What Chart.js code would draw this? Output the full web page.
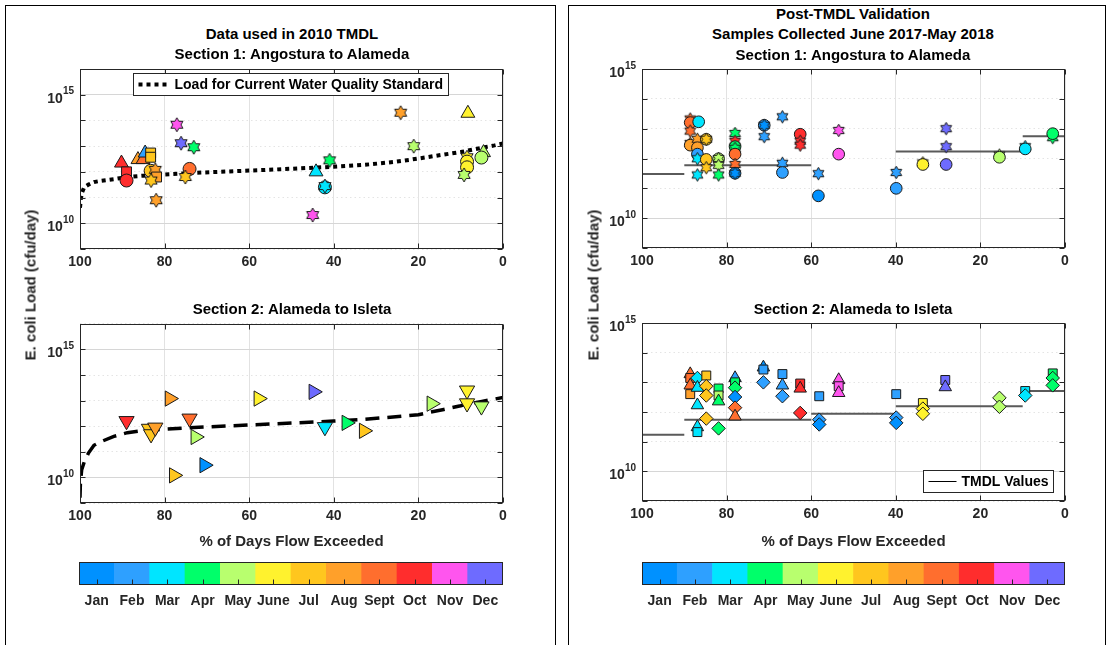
<!DOCTYPE html>
<html>
<head>
<meta charset="utf-8">
<script src="https://cdn.jsdelivr.net/npm/chart.js@4.4.1/dist/chart.umd.min.js"></script>
<style>
body { margin: 0; width: 1110px; height: 645px; overflow: hidden; background: #fff; font-family: "Liberation Sans", Arial, Helvetica, sans-serif; }
.panel { position: absolute; border: 1px solid #000; }
canvas { position: absolute; }
.t { position: absolute; font-weight: bold; font-size: 15px; line-height: 17px; color: #000; white-space: nowrap; transform: translateX(-50%); }
.ylab { position: absolute; font-weight: bold; font-size: 15px; color: #262626; white-space: nowrap; transform: translate(-50%, -50%) rotate(-90deg); }
</style>
</head>
<body>
<div class="panel" style="left:5px;top:5px;width:549px;height:700px"></div>
<div class="panel" style="left:568px;top:5px;width:536px;height:700px"></div>

<canvas id="old1" width="515" height="210" style="left:0;top:60px"></canvas>
<canvas id="old2" width="515" height="239" style="left:0;top:314px"></canvas>
<canvas id="new1" width="517" height="210" style="left:560px;top:60px"></canvas>
<canvas id="new2" width="517" height="237" style="left:560px;top:314px"></canvas>
<canvas id="bar1" width="515" height="60" style="left:0;top:555px"></canvas>
<canvas id="bar2" width="517" height="60" style="left:560px;top:555px"></canvas>

<div class="t" style="left:292px;top:25px">Data used in 2010 TMDL</div>
<div class="t" style="left:292px;top:45px">Section 1: Angostura to Alameda</div>
<div class="t" style="left:292px;top:300px">Section 2: Alameda to Isleta</div>
<div class="t" style="left:853px;top:5px">Post-TMDL Validation</div>
<div class="t" style="left:853px;top:25px">Samples Collected June 2017-May 2018</div>
<div class="t" style="left:853px;top:46px">Section 1: Angostura to Alameda</div>
<div class="t" style="left:853px;top:300px">Section 2: Alameda to Isleta</div>
<div class="ylab" style="left:30px;top:285px">E. coli Load (cfu/day)</div>
<div class="ylab" style="left:593px;top:285px">E. coli Load (cfu/day)</div>

<script>
const months = ["Jan", "Feb", "Mar", "Apr", "May", "June", "Jul", "Aug", "Sept", "Oct", "Nov", "Dec"];
const monthColors = ["#0091FF", "#2EA0FF", "#00E5FF", "#00FF6A", "#B8FF6E", "#FFF22E",
                     "#FFC61E", "#FFA02A", "#FF6E2E", "#FF2D2D", "#FF55EE", "#6E6BFF"];

// data used in 2010 TMDL, section 1 (month 1-12, mark: o ^ v > s d h)
const old1Pct = [90.2, 89, 89, 86.3, 85.1, 84.6, 83.3, 83.3, 83.3, 82.2, 81.9, 83.2, 82, 77.1, 76.1, 73.1,
                 74.1, 75.1, 41, 44.2, 42.1, 42.1, 45, 24.2, 21.1, 8.3, 8.5, 8.5, 8.5, 9.2, 4.6, 5.1];
const old1Load = [2.2e12, 1.0e12, 4.6e11, 3.0e12, 3.0e12, 5.4e12, 5.4e12, 3.7e12, 1.1e12, 1.2e12, 6.3e11, 4.6e11,
                  7.9e10, 6.8e13, 1.3e13, 9.1e12, 1.3e12, 6.3e11, 2.8e12, 1.0e12, 2.5e11, 2.8e11, 2.1e10, 2.0e14,
                  1.0e13, 1.9e14, 3.7e12, 2.5e12, 1.5e12, 7.6e11, 5.6e12, 3.6e12];
const old1Month = [10, 10, 10, 8, 9, 2, 7, 7, 7, 8, 8, 7, 8, 11, 12, 4, 9, 7, 4, 3, 3, 3, 11, 8, 5, 6, 6, 6, 6, 5, 5, 5];
const old1Mark = ["^", "s", "o", "^", "^", "^", "s", "s", "o", "h", "s", "h", "h", "h", "h", "h",
                  "o", "h", "h", "^", "o", "h", "h", "h", "h", "^", "h", "o", "o", "h", "^", "o"];

// data used in 2010 TMDL, section 2
const old2Pct = [89, 83.7, 83.2, 82.2, 78.8, 77.8, 74.1, 72.7, 70.6, 57.8, 44.8, 42.1, 37, 32.9, 16.9, 8.5, 8.5, 5.1];
const old2Load = [1.6e12, 8.0e11, 4.9e11, 8.9e11, 1.2e13, 1.2e10, 2.0e12, 3.8e11, 3.0e10, 1.2e13, 2.2e13, 9.3e11,
                  1.35e12, 6.6e11, 7.6e12, 2.5e13, 7.9e12, 6.0e12];
const old2Month = [10, 7, 7, 8, 8, 7, 9, 5, 1, 6, 12, 3, 4, 7, 5, 6, 6, 5];
const old2Mark = ["v", "v", "v", "v", ">", ">", "v", ">", ">", ">", ">", "v", ">", ">", ">", "v", "v", "v"];

// load for current water quality standard
const std1Pct = [100, 99.8, 99.5, 99, 98, 96.7, 95, 92, 88.8, 85, 80, 73, 60, 50, 40, 33, 26, 22, 18, 14, 10, 7, 4, 2, 0];
const std1Load = [4.0e10, 8.9e10, 1.6e11, 2.5e11, 3.2e11, 4.0e11, 4.5e11, 5.2e11, 6.3e11, 7.1e11, 7.9e11, 9.1e11,
                  1.12e12, 1.32e12, 1.58e12, 1.86e12, 2.4e12, 2.95e12, 3.7e12, 4.7e12, 5.9e12, 7.4e12, 9.3e12, 1.07e13, 1.26e13];
const std2Pct = [100, 99.9, 99.6, 99, 98, 96.7, 95, 92, 88.8, 85, 80, 73, 60, 50, 40, 33, 26, 20, 18, 14, 10, 8.6, 5, 2, 0];
const std2Load = [1.6e9, 6.3e9, 2.0e10, 4.0e10, 8.9e10, 1.8e11, 2.5e11, 4.0e11, 5.6e11, 6.8e11, 7.6e11, 8.9e11,
                  1.12e12, 1.32e12, 1.58e12, 1.86e12, 2.3e12, 2.8e12, 3.3e12, 4.5e12, 6.3e12, 7.2e12, 9.3e12, 1.15e13, 1.32e13];

// post-TMDL validation, section 1
const new1Pct = [88.6, 88.6, 88.6, 86.6, 88.6, 88.6, 86.9, 84.8, 84.8, 86.9, 86.9, 86.9, 84.8, 84.8, 86.9,
                 81.9, 81.9, 81.9, 81.9, 78, 78, 78, 78, 78, 78, 78, 78, 71.1, 71.1, 71.1, 66.8, 66.8, 66.8,
                 62.6, 62.6, 62.6, 58.3, 58.3, 53.5, 53.5, 39.9, 39.9, 33.6, 33.6, 28.1, 28.1, 28.1,
                 15.5, 15.5, 9.4, 9.4, 2.9, 2.9];
const new1Load = [2.1e13, 1.6e13, 8.3e12, 1.7e13, 3.2e12, 2.8e12, 4.4e12, 4.4e12, 4.4e12, 2.3e12, 1.4e12, 9.8e11,
                  9.3e11, 4.9e11, 2.8e11, 9.8e11, 1.0e12, 5.9e11, 2.8e11, 6.9e12, 3.8e12, 2.5e12, 2.2e12, 1.4e12,
                  6.3e11, 3.2e11, 3.2e11, 1.3e13, 1.3e13, 5.4e12, 2.5e13, 6.9e11, 3.4e11, 6.5e12, 3.8e12, 2.8e12,
                  3.1e11, 5.6e10, 8.7e12, 1.4e12, 3.4e11, 1.0e11, 7.1e11, 6.3e11, 1.0e13, 2.5e12, 6.3e11,
                  1.3e12, 1.1e12, 2.5e12, 2.1e12, 5.0e12, 6.8e12];
const new1Month = [9, 9, 9, 3, 8, 8, 8, 7, 7, 8, 2, 3, 7, 7, 3, 5, 5, 5, 4, 4, 10, 4, 4, 9, 9, 1, 1, 2, 1, 2,
                   2, 2, 2, 10, 10, 10, 2, 1, 11, 11, 2, 2, 6, 6, 12, 12, 12, 5, 5, 3, 3, 4, 4];
const new1Mark = ["h", "o", "h", "o", "h", "o", "h", "o", "h", "o", "o", "h", "o", "h", "h", "o", "h", "h", "h",
                  "h", "h", "o", "h", "o", "h", "o", "h", "o", "h", "h", "h", "h", "o", "o", "h", "h", "h", "o",
                  "h", "o", "h", "o", "h", "o", "h", "h", "o", "h", "o", "h", "o", "h", "o"];
const new1TmdlFrom = [100, 90, 40, 10];
const new1TmdlTo = [90, 60, 10, 0];
const new1TmdlLoad = [3.0e11, 5.9e11, 1.7e12, 5.6e12];

// post-TMDL validation, section 2
const new2Pct = [88.6, 88.6, 88.6, 88.6, 86.9, 84.8, 86.9, 84.8, 84.8, 86.9, 84.8, 86.9, 86.9,
                 81.9, 81.9, 81.9, 81.9, 78, 78, 78, 78, 78, 78, 71.3, 71.3, 71.3, 66.8, 66.8, 66.8,
                 62.6, 62.6, 62.6, 58.1, 58.1, 58.1, 53.5, 53.5, 53.5, 39.9, 39.9, 39.9, 33.6, 33.6, 33.6,
                 28.3, 28.3, 15.5, 15.5, 9.4, 9.4, 2.9, 2.9, 2.9];
const new2Load = [1.9e13, 1.4e13, 7.9e12, 4.0e12, 1.4e13, 1.7e13, 6.6e12, 7.4e12, 3.6e12, 1.7e12, 6.0e11, 3.1e11, 2.1e11,
                  6.2e12, 3.6e12, 2.3e12, 2.8e11, 1.4e13, 1.0e13, 6.6e12, 3.2e12, 1.4e12, 7.1e11,
                  3.2e13, 2.7e13, 1.0e13, 1.9e13, 7.9e12, 3.4e12, 9.1e12, 6.2e12, 9.3e11, 3.4e12, 5.5e11, 3.8e11,
                  1.2e13, 7.4e12, 4.4e12, 4.0e12, 6.5e11, 4.3e11, 2.0e12, 1.3e12, 8.7e11, 1.2e13, 6.9e12,
                  3.0e12, 1.5e12, 5.1e12, 3.6e12, 2.0e13, 1.4e13, 7.9e12];
const new2Month = [9, 9, 9, 8, 3, 7, 3, 7, 7, 3, 7, 3, 3, 4, 5, 4, 4, 2, 4, 4, 1, 9, 9, 1, 2, 2, 2, 2, 2,
                   10, 10, 10, 2, 2, 1, 11, 11, 11, 2, 2, 1, 6, 6, 6, 12, 12, 5, 5, 3, 3, 4, 4, 4];
const new2Mark = ["^", "s", "^", "s", "d", "s", "^", "d", "d", "^", "d", "^", "s", "s", "s", "^", "d",
                  "^", "s", "d", "d", "d", "^", "^", "s", "d", "s", "^", "d", "s", "^", "d", "s", "d", "d",
                  "^", "s", "^", "s", "d", "d", "s", "d", "d", "s", "^", "d", "d", "s", "d", "s", "d", "d"];
const new2TmdlFrom = [100, 90, 60, 40, 10];
const new2TmdlTo = [90, 60, 40, 10, 0];
const new2TmdlLoad = [1.7e11, 5.5e11, 8.7e11, 1.55e12, 5.1e12];

const xTicks = [0, 20, 40, 60, 80, 100];

const FONT = '"Liberation Sans", Arial, Helvetica, sans-serif';
const INK = "#262626";
Chart.defaults.font.family = FONT;
Chart.defaults.font.weight = "bold";
Chart.defaults.color = INK;

// hexagram marker drawn once per colour
const hexCache = {};
function hexagram(color, R) {
    const key = color + R;
    if (hexCache[key]) return hexCache[key];
    const c = document.createElement("canvas");
    const s = Math.ceil(2 * R + 4);
    c.width = s; c.height = s;
    const g = c.getContext("2d");
    const r = R / Math.sqrt(3);
    g.beginPath();
    for (let k = 0; k < 12; k++) {
        const a = -Math.PI / 2 + k * Math.PI / 6;
        const rr = k % 2 === 0 ? R : r;
        g.lineTo(s / 2 + rr * Math.cos(a), s / 2 + rr * Math.sin(a));
    }
    g.closePath();
    g.fillStyle = color;
    g.fill();
    g.strokeStyle = "#1a1a1a";
    g.lineWidth = 1;
    g.stroke();
    hexCache[key] = c;
    return c;
}

const styleOf = { o: "circle", "^": "triangle", v: "triangle", ">": "triangle", s: "rect", d: "rectRot" };
const rotOf = { v: 180, ">": 90 };
const sizeOf = { o: 6.5, "^": 8, v: 8, ">": 8, s: 7, d: 7.5, h: 7 };

function pointsDataset(pct, load, month, mark, k) {
    return {
        data: pct.map((x, i) => ({ x: x, y: load[i] })),
        pointStyle: mark.map((m, i) => m === "h" ? hexagram(monthColors[month[i] - 1], sizeOf.h * k) : styleOf[m]),
        pointRotation: mark.map(m => rotOf[m] || 0),
        pointRadius: mark.map(m => sizeOf[m] * k),
        pointBackgroundColor: month.map(m => monthColors[m - 1]),
        pointBorderColor: "#1a1a1a",
        pointBorderWidth: 1,
        clip: false
    };
}

function curveDataset(pct, load, dash, width) {
    return {
        data: pct.map((x, i) => ({ x: x, y: load[i] })),
        showLine: true,
        pointRadius: 0,
        borderColor: "#000",
        borderWidth: width,
        borderDash: dash,
        borderCapStyle: "butt",
        tension: 0
    };
}

function stepDataset(from, to, load) {
    const pts = [];
    from.forEach((f, i) => {
        pts.push({ x: f, y: load[i] }, { x: to[i], y: load[i] }, { x: to[i], y: null });
    });
    return {
        data: pts,
        showLine: true,
        spanGaps: false,
        pointRadius: 0,
        borderColor: "#5a5a5a",
        borderWidth: 2
    };
}

// axes box, inward ticks, 10^n labels and legend box
const frame = {
    id: "frame",
    afterDraw(chart, args, o) {
        const ctx = chart.ctx, a = chart.chartArea;
        ctx.save();
        ctx.strokeStyle = INK;
        ctx.lineWidth = 1;
        const L = Math.round(a.left) + 0.5, R = Math.round(a.right) - 0.5;
        const T = Math.round(a.top) + 0.5, B = Math.round(a.bottom) - 0.5;
        ctx.strokeRect(L, T, R - L, B - T);
        const tl = 5;
        ctx.beginPath();
        const xs = chart.scales.x;
        xs.ticks.forEach((t, i) => {
            const px = Math.round(xs.getPixelForTick(i)) + 0.5;
            ctx.moveTo(px, B); ctx.lineTo(px, B - tl);
            if (o.top) { ctx.moveTo(px, T); ctx.lineTo(px, T + tl); }
        });
        if (o.log) {
            const ys = chart.scales.y;
            ys.ticks.forEach((t, i) => {
                const py = Math.round(ys.getPixelForTick(i)) + 0.5;
                ctx.moveTo(L, py); ctx.lineTo(L + tl, py);
                ctx.moveTo(R, py); ctx.lineTo(R - tl, py);
            });
        }
        ctx.stroke();
        if (o.log) {
            const ys = chart.scales.y;
            ctx.fillStyle = INK;
            ctx.textBaseline = "middle";
            ys.ticks.forEach(t => {
                const e = Math.round(Math.log10(t.value));
                if (e % 5 !== 0) return;
                const py = ys.getPixelForValue(t.value);
                const sup = String(e);
                ctx.font = "bold 10px " + FONT;
                const sw = ctx.measureText(sup).width;
                ctx.font = "bold 14px " + FONT;
                const bw = ctx.measureText("10").width;
                const x0 = a.left - 6 - sw - bw;
                ctx.fillText("10", x0, py + 4);
                ctx.font = "bold 10px " + FONT;
                ctx.fillText(sup, x0 + bw, py - 3);
            });
        }
        if (o.legend) {
            const g = o.legend;
            const bx = Math.round(a.left + g.left) + 0.5, by = Math.round(a.top + g.top) + 0.5;
            ctx.fillStyle = "#fff";
            ctx.fillRect(bx, by, g.width, g.height);
            ctx.strokeStyle = INK;
            ctx.lineWidth = 1;
            ctx.setLineDash([]);
            ctx.strokeRect(bx, by, g.width, g.height);
            ctx.beginPath();
            ctx.strokeStyle = g.color;
            ctx.lineWidth = g.lineWidth;
            ctx.setLineDash(g.dash);
            ctx.moveTo(bx + 5, by + g.height / 2);
            ctx.lineTo(bx + g.lineLen, by + g.height / 2);
            ctx.stroke();
            ctx.setLineDash([]);
            ctx.fillStyle = "#000";
            ctx.font = "bold 14px " + FONT;
            ctx.textBaseline = "middle";
            ctx.fillText(g.text, bx + g.lineLen + 5, by + g.height / 2 + 1);
        }
        ctx.restore();
    }
};

function scatterChart(id, datasets, o) {
    return new Chart(document.getElementById(id), {
        type: "scatter",
        data: { datasets: datasets },
        plugins: [frame],
        options: {
            responsive: false,
            animation: false,
            events: [],
            layout: { padding: { top: 9, right: 12, left: 0, bottom: 0 } },
            plugins: {
                legend: { display: false },
                tooltip: { enabled: false },
                frame: { log: true, top: true, legend: o.legend }
            },
            scales: {
                x: {
                    type: "linear",
                    min: 0,
                    max: 100,
                    reverse: true,
                    afterBuildTicks: s => { s.ticks = xTicks.map(v => ({ value: v })); },
                    afterFit: s => { s.height = o.xHeight; },
                    grid: { color: "#e2e2e2", drawTicks: false },
                    border: { display: false },
                    ticks: { font: { size: 14, weight: "bold" }, color: INK, padding: 5, maxRotation: 0 },
                    title: {
                        display: !!o.xTitle,
                        text: o.xTitle || "",
                        font: { size: 15, weight: "bold" },
                        color: INK,
                        padding: { top: 0, bottom: o.titlePad || 0 }
                    }
                },
                y: {
                    type: "logarithmic",
                    min: 1e9,
                    max: o.yMax,
                    afterBuildTicks: s => {
                        const t = [];
                        for (let e = 9; e <= Math.round(Math.log10(o.yMax)); e++) t.push({ value: Math.pow(10, e) });
                        s.ticks = t;
                    },
                    afterFit: s => { s.width = o.yWidth; },
                    ticks: { display: false },
                    grid: {
                        drawTicks: false,
                        color: c => Math.round(Math.log10(c.tick.value)) % 5 === 0 ? "#d6d6d6" : "#e4e4e4"
                    },
                    border: {
                        display: false,
                        dash: c => (c.tick && Math.round(Math.log10(c.tick.value)) % 5 === 0) ? [] : [1.5, 3]
                    }
                }
            }
        }
    });
}

function colorBar(id, padLeft) {
    return new Chart(document.getElementById(id), {
        type: "bar",
        data: {
            labels: months,
            datasets: [{
                data: months.map(() => 1),
                backgroundColor: monthColors,
                borderWidth: 0,
                barPercentage: 1,
                categoryPercentage: 1
            }]
        },
        plugins: [frame],
        options: {
            responsive: false,
            animation: false,
            events: [],
            layout: { padding: { top: 7, right: 12, left: padLeft, bottom: 0 } },
            plugins: { legend: { display: false }, tooltip: { enabled: false }, frame: { log: false, top: false } },
            scales: {
                x: {
                    grid: { display: false },
                    border: { display: false },
                    afterFit: s => { s.height = 30; },
                    ticks: { font: { size: 14, weight: "bold" }, color: INK, padding: 0, autoSkip: false, maxRotation: 0 }
                },
                y: { display: false, min: 0, max: 1 }
            }
        }
    });
}

scatterChart("old1", [
    pointsDataset(old1Pct, old1Load, old1Month, old1Mark, 1),
    curveDataset(std1Pct, std1Load, [4, 4], 4)
], {
    yMax: 1e16, yWidth: 80, xHeight: 21,
    legend: { left: 53, top: 4, width: 315, height: 22, lineLen: 36, dash: [4, 4], lineWidth: 4, color: "#000",
              text: "Load for Current Water Quality Standard" }
});

scatterChart("old2", [
    pointsDataset(old2Pct, old2Load, old2Month, old2Mark, 1.1),
    curveDataset(std2Pct, std2Load, [14, 8], 3.5)
], { yMax: 1e16, yWidth: 80, xHeight: 50, xTitle: "% of Days Flow Exceeded", titlePad: 2 });

scatterChart("new1", [
    pointsDataset(new1Pct, new1Load, new1Month, new1Mark, 0.9),
    stepDataset(new1TmdlFrom, new1TmdlTo, new1TmdlLoad)
], { yMax: 1e15, yWidth: 82, xHeight: 22 });

scatterChart("new2", [
    pointsDataset(new2Pct, new2Load, new2Month, new2Mark, 0.9),
    stepDataset(new2TmdlFrom, new2TmdlTo, new2TmdlLoad)
], {
    yMax: 1e15, yWidth: 82, xHeight: 50, xTitle: "% of Days Flow Exceeded", titlePad: 0,
    legend: { left: 281, top: 147, width: 130, height: 22, lineLen: 33, dash: [], lineWidth: 1, color: "#000",
              text: "TMDL Values" }
});

colorBar("bar1", 79);
colorBar("bar2", 82);
</script>
</body>
</html>
